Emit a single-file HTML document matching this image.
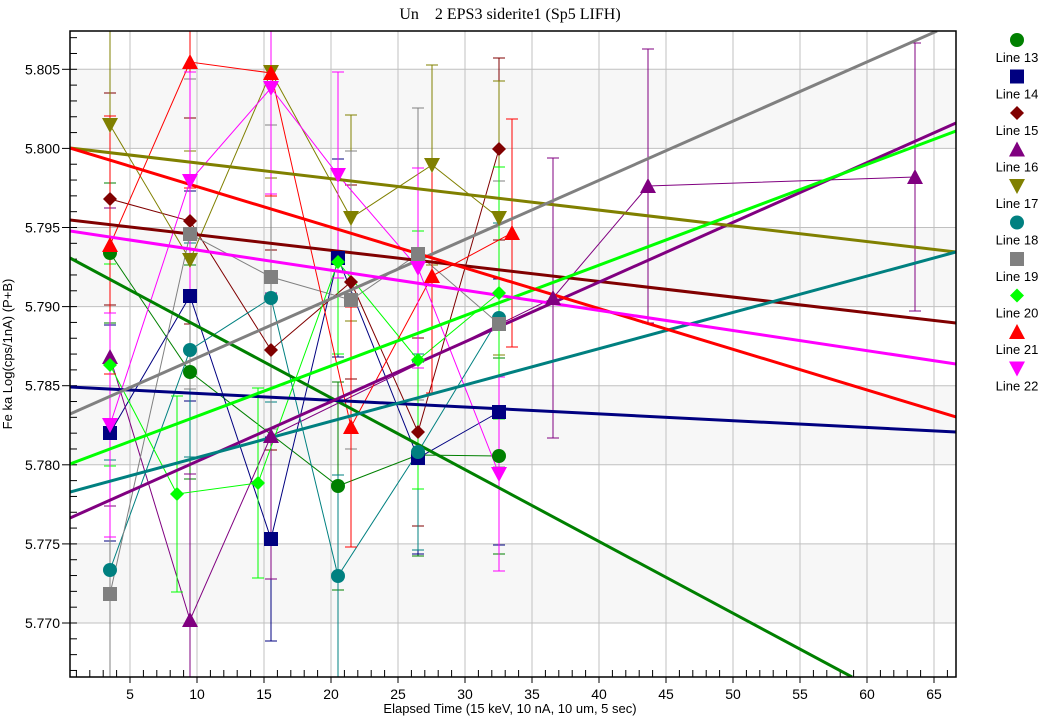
<!DOCTYPE html>
<html><head><meta charset="utf-8"><style>
html,body{margin:0;background:#fff;width:1046px;height:722px;overflow:hidden}
svg{display:block}
text{font-family:"Liberation Sans",Arial,sans-serif}
</style></head><body>
<svg id="s" width="1046" height="722" xmlns="http://www.w3.org/2000/svg"></svg>
<script>
const s=document.getElementById('s');let h='';
const L=70,R=956,T=31,B=677;
const X=v=>63+v*13.4, Y=v=>623-(v-5.770)/0.005*79.1;
h+=`<defs><clipPath id="c"><rect x="${L}" y="${T}" width="${R-L}" height="${B-T}"/></clipPath></defs>`;
for(let v=5.770;v<5.806;v+=0.01){h+=`<rect x="${L}" y="${Y(v+0.005)}" width="${R-L}" height="${79.1}" fill="#f7f7f7" clip-path="url(#c)"/>`;}
for(let x=5;x<=65;x+=5)h+=`<line x1="${X(x)}" x2="${X(x)}" y1="${T}" y2="${B}" stroke="#c0c0c0"/>`;
for(let i=0;i<=7;i++){const y=Y(5.770+i*0.005);h+=`<line x1="${L}" x2="${R}" y1="${y}" y2="${y}" stroke="#c0c0c0"/>`;
h+=`<line x1="${L-8}" x2="${L}" y1="${y}" y2="${y}" stroke="#000"/><text x="${L-10}" y="${y+5}" font-size="14" text-anchor="end">${(5.770+i*0.005).toFixed(3)}</text>`;}
for(let i=-4;i<=38;i++){const y=Y(5.770+i*0.001);if(y>T&&y<B)h+=`<line x1="${L}" x2="${L+7}" y1="${y}" y2="${y}" stroke="#000"/>`;}
for(let x=1;x<=66;x++){const px=X(x);if(px>L&&px<R)h+=`<line x1="${px}" x2="${px}" y1="${B}" y2="${B-(x%5?7:0)}" stroke="#000"/>`;}
for(let x=5;x<=65;x+=5)h+=`<line x1="${X(x)}" x2="${X(x)}" y1="${B}" y2="${B+6}" stroke="#000"/><text x="${X(x)}" y="${B+22}" font-size="14" text-anchor="middle">${x}</text>`;
let g='';
const S=[
['#008000','c',[[110,253],[190,372],[338,486],[418,455],[499,456]]],
['#000080','s',[[110,433],[190,296],[271,539],[338,258],[418,458],[499,412]]],
['#800000','d',[[110,199],[190,221],[271,350],[351,282],[418,432],[499,149]]],
['#800080','u',[[110,357],[190,620],[271,436],[553,298],[648,186],[915,177]]],
['#808000','v',[[110,125],[190,260],[271,72],[351,218],[432,165],[499,218]]],
['#008080','c',[[110,570],[190,350],[271,298],[338,576],[418,452],[499,318]]],
['#808080','s',[[110,594],[190,234],[271,277],[351,300],[418,254],[499,324]]],
['#00ff00','d',[[110,365],[177,494],[258,483],[338,262],[418,360],[499,293]]],
['#ff0000','u',[[110,245],[190,62],[271,73],[351,427],[432,276],[512,233]]],
['#ff00ff','v',[[110,425],[190,181],[271,88],[338,175],[418,268],[499,474]]]];
const F=[['#008000',70,258,852,677],['#000080',70,387,956,432],['#800000',70,220,956,323],['#800080',70,518,956,123],['#808000',70,148,956,252],['#008080',70,492,956,252],['#808080',70,414,937,31],['#00ff00',70,464,956,131],['#ff0000',70,148,956,417],['#ff00ff',70,231,956,364]];
function mk(t,c,x,y){if(t=='c')return `<circle cx="${x}" cy="${y}" r="7" fill="${c}"/>`;
if(t=='s')return `<rect x="${x-7}" y="${y-7}" width="14" height="14" fill="${c}"/>`;
if(t=='d')return `<polygon points="${x},${y-7} ${x+7},${y} ${x},${y+7} ${x-7},${y}" fill="${c}"/>`;
if(t=='u')return `<polygon points="${x},${y-8} ${x+8},${y+7} ${x-8},${y+7}" fill="${c}"/>`;
return `<polygon points="${x},${y+8} ${x+8},${y-7} ${x-8},${y-7}" fill="${c}"/>`;}
S.forEach((sr,k)=>{const[c,t,p]=sr;const e=[70,95,80,110,100,85,120,90,105,75][k];
p.forEach(([x,y],j)=>{const ee=e+((j*37+k*13)%40);g+=`<line x1="${x}" x2="${x}" y1="${y-ee}" y2="${y+ee}" stroke="${c}"/><line x1="${x-6}" x2="${x+6}" y1="${y-ee}" y2="${y-ee}" stroke="${c}"/><line x1="${x-6}" x2="${x+6}" y1="${y+ee}" y2="${y+ee}" stroke="${c}"/>`;});
g+=`<polyline points="${p.map(q=>q.join(',')).join(' ')}" fill="none" stroke="${c}" stroke-width="1"/>`;});
F.forEach(f=>g+=`<line x1="${f[1]}" y1="${f[2]}" x2="${f[3]}" y2="${f[4]}" stroke="${f[0]}" stroke-width="3"/>`);
S.forEach(([c,t,p])=>p.forEach(([x,y])=>g+=mk(t,c,x,y)));
h+=`<g clip-path="url(#c)">${g}</g>`;
h+=`<rect x="${L}" y="${T}" width="${R-L}" height="${B-T}" fill="none" stroke="#000" stroke-width="1.5"/>`;
S.forEach(([c,t],k)=>{const y=40+k*36.5;h+=mk(t,c,1017,y)+`<text x="1017" y="${y+22}" font-size="13" text-anchor="middle">Line ${13+k}</text>`;});
h+=`<text x="510" y="19" font-size="16" text-anchor="middle" style="font-family:'Liberation Serif',serif" xml:space="preserve">Un    2 EPS3 siderite1 (Sp5 LIFH)</text>`;
h+=`<text x="510" y="713" font-size="13" text-anchor="middle">Elapsed Time (15 keV, 10 nA, 10 um, 5 sec)</text>`;
h+=`<text transform="translate(12,354) rotate(-90)" font-size="13" text-anchor="middle">Fe ka Log(cps/1nA) (P+B)</text>`;
s.innerHTML=h;
</script>
</body></html>
